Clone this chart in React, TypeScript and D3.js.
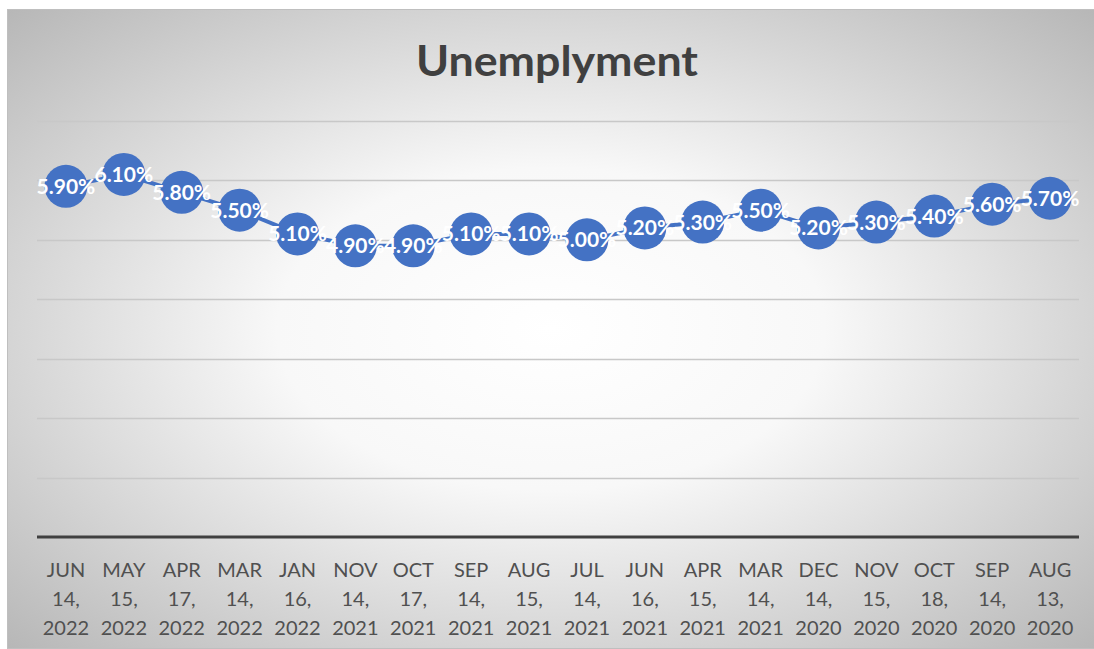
import React from "react";
import * as d3 from "d3";

const months = ["JUN","MAY","APR","MAR","JAN","NOV","OCT","SEP","AUG","JUL","JUN","APR","MAR","DEC","NOV","OCT","SEP","AUG"];
const days = ["14,","15,","17,","14,","16,","14,","17,","14,","15,","14,","16,","15,","14,","14,","15,","18,","14,","13,"];
const years = ["2022","2022","2022","2022","2022","2021","2021","2021","2021","2021","2021","2021","2021","2020","2020","2020","2020","2020"];
const values = [5.9,6.1,5.8,5.5,5.1,4.9,4.9,5.1,5.1,5.0,5.2,5.3,5.5,5.2,5.3,5.4,5.6,5.7];
const gridTicks = [1,2,3,4,5,6,7];

const W = 1094, H = 649;
const left = 37, right = 1079, top = 121, bottom = 537;
const font = "Lato, 'Open Sans', sans-serif";

export default function App() {
  const cats = values.map((_, i) => String(i));
  const x = d3.scaleBand().domain(cats).range([left, right]);
  const y = d3.scaleLinear().domain([0, 7]).range([bottom, top]);
  const cx = (i: number) => (x(String(i)) as number) + x.bandwidth() / 2;
  const line = d3.line<number>().x((_, i) => cx(i)).y(d => y(d));

  return (
    <svg width={W} height={H} style={{ position: "absolute", left: 0, top: 0 }}>
      <defs>
        <radialGradient id="bg" cx="50%" cy="50%" r="72%">
          <stop offset="0%" stopColor="#ffffff" />
          <stop offset="35%" stopColor="#f8f8f8" />
          <stop offset="100%" stopColor="#b5b5b5" />
        </radialGradient>
      </defs>
      <rect x={7.5} y={9.5} width={W - 7} height={H - 10} fill="url(#bg)" stroke="#bfbfbf" strokeWidth={1} />
      <text x={557} y={76} textAnchor="middle" fontFamily={font} fontWeight="bold" fontSize={42} fill="#404040" textLength={282} lengthAdjust="spacingAndGlyphs">Unemplyment</text>
      {gridTicks.map(t => (
        <line key={t} x1={left} x2={right} y1={Math.round(y(t)) + 0.5} y2={Math.round(y(t)) + 0.5} stroke="#c8c8c8" strokeWidth={1.3} />
      ))}
      <line x1={left} x2={right} y1={bottom} y2={bottom} stroke="#404040" strokeWidth={3} />
      {cats.map((c, i) => (
        <text key={c} textAnchor="middle" fontFamily={font} fontSize={20} fill="#505050">
          <tspan x={cx(i)} y={577}>{months[i]}</tspan>
          <tspan x={cx(i)} y={606}>{days[i]}</tspan>
          <tspan x={cx(i)} y={635}>{years[i]}</tspan>
        </text>
      ))}
      <path d={line(values) as string} fill="none" stroke="#4472C4" strokeWidth={4} strokeLinejoin="round" />
      {values.map((v, i) => (
        <circle key={i} cx={cx(i)} cy={y(v)} r={21.5} fill="#4472C4" />
      ))}
      {values.map((v, i) => (
        <text key={i} x={cx(i)} y={y(v) + 7.5} textAnchor="middle" fontFamily={font} fontWeight="bold" fontSize={21} fill="#ffffff">
          {v.toFixed(2) + "%"}
        </text>
      ))}
    </svg>
  );
}
